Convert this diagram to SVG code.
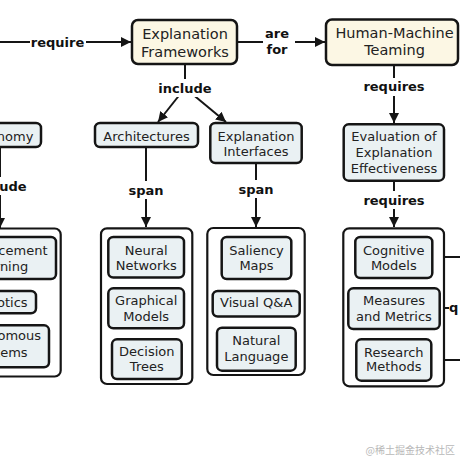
<svg xmlns="http://www.w3.org/2000/svg" width="460" height="460" viewBox="0 0 460 460">
<style>
.node rect{fill:#eaf1f3;stroke:#151515;stroke-width:2.5}
.top rect{fill:#fcf7e4;stroke:#151515;stroke-width:2.5}
.cont rect{fill:#ffffff;stroke:#151515;stroke-width:2.2}
.t{font-family:"DejaVu Sans","Liberation Sans",sans-serif;font-size:13px;fill:#222;text-anchor:middle}
.tt{font-family:"DejaVu Sans","Liberation Sans",sans-serif;font-size:14.5px;fill:#222;text-anchor:middle}
.lbl{font-family:"DejaVu Sans","Liberation Sans",sans-serif;font-size:13px;font-weight:bold;fill:#111;text-anchor:middle}
.conn line{stroke:#151515;stroke-width:2}
.bg{fill:#ffffff}
</style>
<defs>
<marker id="arr" markerUnits="userSpaceOnUse" markerWidth="10" markerHeight="10" refX="10" refY="5" orient="auto">
<path d="M0,0 L10,5 L0,10 z" fill="#151515"/>
</marker>
</defs>
<rect x="0" y="0" width="460" height="460" fill="#ffffff"/>

<g id="connectors" class="conn">
<line x1="-10" y1="42" x2="131" y2="42" marker-end="url(#arr)"/>
<line x1="238" y1="42" x2="325" y2="42" marker-end="url(#arr)"/>
<line x1="185" y1="65" x2="185" y2="88"/>
<line x1="185" y1="88" x2="158" y2="122" marker-end="url(#arr)"/>
<line x1="185" y1="88" x2="226" y2="122" marker-end="url(#arr)"/>
<line x1="146" y1="148" x2="146" y2="227" marker-end="url(#arr)"/>
<line x1="256" y1="164" x2="256" y2="227" marker-end="url(#arr)"/>
<line x1="394" y1="66" x2="394" y2="123" marker-end="url(#arr)"/>
<line x1="394" y1="182" x2="394" y2="227" marker-end="url(#arr)"/>
<line x1="0" y1="148" x2="0" y2="228" marker-end="url(#arr)"/>
<line x1="433" y1="257" x2="462" y2="257"/>
<line x1="440" y1="308" x2="449" y2="308"/>
<line x1="432" y1="360" x2="462" y2="360"/>
<rect class="bg" x="30" y="33" width="56" height="18"/>
<text class="lbl" x="57.5" y="46.5">require</text>
<rect class="bg" x="263" y="24" width="32" height="34"/>
<text class="lbl" x="277" y="38">are</text>
<text class="lbl" x="277" y="53.5">for</text>
<rect class="bg" x="157" y="79" width="56" height="18"/>
<text class="lbl" x="185" y="92.5">include</text>
<rect class="bg" x="128" y="181" width="36" height="18"/>
<text class="lbl" x="146" y="194.5">span</text>
<rect class="bg" x="238" y="180" width="36" height="18"/>
<text class="lbl" x="256" y="193.5">span</text>
<rect class="bg" x="364" y="78" width="60" height="18"/>
<text class="lbl" x="394" y="91">requires</text>
<rect class="bg" x="364" y="191" width="60" height="18"/>
<text class="lbl" x="394" y="204.5">requires</text>
<rect class="bg" x="-28" y="177" width="56" height="18"/>
<text class="lbl" x="0" y="190.5">include</text>
<text class="lbl" x="449" y="312" style="text-anchor:start">q</text>
</g>

<g id="n-explanation-frameworks" class="top">
<rect x="132" y="20" width="105" height="44" rx="6"/>
<text class="tt" x="185" y="38.5">Explanation</text>
<text class="tt" x="185" y="57">Frameworks</text>
</g>
<g id="n-human-machine-teaming" class="top">
<rect x="326" y="19.5" width="132" height="45.5" rx="6"/>
<text class="tt" x="394.5" y="37.5">Human-Machine</text>
<text class="tt" x="394.5" y="55">Teaming</text>
</g>
<g id="n-autonomy" class="node">
<rect x="-44" y="123" width="85" height="24" rx="5"/>
<text class="t" x="0" y="140.7">Autonomy</text>
</g>
<g id="n-architectures" class="node">
<rect x="95" y="123" width="103" height="24" rx="5"/>
<text class="t" x="146.5" y="140.7">Architectures</text>
</g>
<g id="n-explanation-interfaces" class="node">
<rect x="210.3" y="123" width="91.4" height="40" rx="5"/>
<text class="t" x="256" y="141.3">Explanation</text>
<text class="t" x="256" y="156.3">Interfaces</text>
</g>
<g id="n-evaluation" class="node">
<rect x="343.7" y="124.3" width="100.3" height="56.4" rx="5"/>
<text class="t" x="394" y="140.7">Evaluation of</text>
<text class="t" x="394" y="157">Explanation</text>
<text class="t" x="394" y="173">Effectiveness</text>
</g>

<g id="c-autonomy" class="cont">
<rect x="-61" y="228.5" width="121.7" height="148" rx="6"/>
</g>
<g id="c-architectures" class="cont">
<rect x="101" y="228.3" width="91.3" height="155.7" rx="6"/>
</g>
<g id="c-interfaces" class="cont">
<rect x="207.3" y="228" width="97.4" height="147" rx="6"/>
</g>
<g id="c-evaluation" class="cont">
<rect x="343.3" y="228.3" width="100.7" height="158" rx="6"/>
</g>

<g id="n-reinforcement-learning" class="node">
<rect x="-56" y="237" width="112" height="42" rx="5"/>
<text class="t" x="0" y="254.7">Reinforcement</text>
<text class="t" x="0" y="271">Learning</text>
</g>
<g id="n-robotics" class="node">
<rect x="-36" y="291" width="72" height="22.3" rx="5"/>
<text class="t" x="0" y="306.7">Robotics</text>
</g>
<g id="n-autonomous-systems" class="node">
<rect x="-49" y="325.3" width="98" height="42" rx="5"/>
<text class="t" x="0" y="339.7">Autonomous</text>
<text class="t" x="0" y="357">Systems</text>
</g>

<g id="n-neural-networks" class="node">
<rect x="108.3" y="237" width="75.7" height="40.5" rx="5"/>
<text class="t" x="146.2" y="254.7">Neural</text>
<text class="t" x="146.2" y="270.3">Networks</text>
</g>
<g id="n-graphical-models" class="node">
<rect x="108.3" y="288.3" width="75.7" height="40" rx="5"/>
<text class="t" x="146.2" y="305.3">Graphical</text>
<text class="t" x="146.2" y="321.3">Models</text>
</g>
<g id="n-decision-trees" class="node">
<rect x="112" y="339.3" width="69.7" height="39.7" rx="5"/>
<text class="t" x="146.8" y="356.3">Decision</text>
<text class="t" x="146.8" y="371.3">Trees</text>
</g>

<g id="n-saliency-maps" class="node">
<rect x="221.7" y="237" width="69.6" height="42" rx="5"/>
<text class="t" x="256.5" y="254.7">Saliency</text>
<text class="t" x="256.5" y="270.3">Maps</text>
</g>
<g id="n-visual-qa" class="node">
<rect x="212.7" y="291" width="87" height="25.5" rx="5"/>
<text class="t" x="256.2" y="307.3">Visual Q&amp;A</text>
</g>
<g id="n-natural-language" class="node">
<rect x="217" y="327.7" width="78.7" height="43" rx="5"/>
<text class="t" x="256.3" y="344.7">Natural</text>
<text class="t" x="256.3" y="361.3">Language</text>
</g>

<g id="n-cognitive-models" class="node">
<rect x="355.3" y="237" width="77" height="41" rx="5"/>
<text class="t" x="393.8" y="254.7">Cognitive</text>
<text class="t" x="393.8" y="269.7">Models</text>
</g>
<g id="n-measures-metrics" class="node">
<rect x="348.3" y="288.3" width="91.4" height="40.7" rx="5"/>
<text class="t" x="394" y="305.3">Measures</text>
<text class="t" x="394" y="321.3">and Metrics</text>
</g>
<g id="n-research-methods" class="node">
<rect x="356.3" y="339.3" width="75" height="41.4" rx="5"/>
<text class="t" x="393.8" y="357">Research</text>
<text class="t" x="393.8" y="371.3">Methods</text>
</g>

<text x="455" y="454" font-family="'Noto Sans CJK SC','DejaVu Sans',sans-serif" font-size="10" fill="#b8b8b8" text-anchor="end">@稀土掘金技术社区</text>
</svg>
